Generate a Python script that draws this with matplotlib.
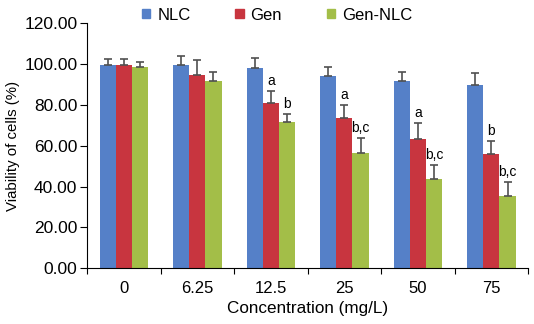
import numpy as np
import matplotlib.pyplot as plt
from matplotlib.patches import Patch

plt.rcParams['font.family'] = ['Liberation Sans', 'DejaVu Sans']

# data
conc = ['0', '6.25', '12.5', '25', '50', '75']
nlc = [99.5, 99.5, 98.2, 94.4, 91.7, 90.0]
nlc_err = [2.8, 4.4, 5.0, 4.0, 4.5, 5.6]
gen = [99.5, 94.8, 81.0, 73.7, 63.2, 55.9]
gen_err = [2.8, 7.3, 6.0, 6.2, 8.0, 6.5]
gen_nlc = [98.5, 91.7, 71.5, 56.6, 43.6, 35.6]
gen_nlc_err = [2.6, 4.4, 4.1, 7.1, 6.9, 6.5]
gen_sig = ['', '', 'a', 'a', 'a', 'b']
gen_nlc_sig = ['', '', 'b', 'b,c', 'b,c', 'b,c']

colors = ['#5580C8', '#C8353F', '#A3BE48']
names = ['NLC', 'Gen', 'Gen-NLC']

fig = plt.figure(figsize=(5.34, 3.24), dpi=100)
ax = fig.add_axes([0.163, 0.172, 0.826, 0.756])

x = np.arange(len(conc))
w = 0.22
series = [(nlc, nlc_err, None), (gen, gen_err, gen_sig), (gen_nlc, gen_nlc_err, gen_nlc_sig)]
for i, (vals, err, sig) in enumerate(series):
    xs = x + (i - 1) * w
    ax.bar(xs, vals, w, color=colors[i], zorder=2)
    ax.errorbar(xs, vals, yerr=[np.zeros(len(vals)), err], fmt='none',
                ecolor='#505050', elinewidth=1.2, capsize=3, capthick=1.2, zorder=3)
    if sig:
        for xi, v, e, s in zip(xs, vals, err, sig):
            if s:
                ax.text(xi, v + e + 1.5, s, ha='center', va='bottom', fontsize=10)

ax.set_xlim(-0.5, 5.5)
ax.set_ylim(0, 120)
ax.set_yticks(np.arange(0, 121, 20))
ax.set_yticklabels(['%.2f' % v for v in np.arange(0, 121, 20)], fontsize=12.5)
ax.set_xticks(np.arange(-0.5, 6, 1))
ax.set_xticklabels([])
ax.set_xticks(x, minor=True)
ax.set_xticklabels(conc, minor=True, fontsize=12)
ax.tick_params(axis='x', which='minor', length=0, pad=9)
ax.tick_params(axis='x', which='major', length=4, direction='out')
ax.tick_params(axis='y', length=5, direction='out', pad=2)
for s in ['top', 'right']:
    ax.spines[s].set_visible(False)
ax.set_xlabel('Concentration (mg/L)', fontsize=12.3, labelpad=4)
ax.set_ylabel('Viability of cells (%)', fontsize=10.8, labelpad=3)

handles = [Patch(color=c) for c in colors]
fig.legend(handles, names, loc='center', bbox_to_anchor=(0.519, 0.953), ncol=3,
           frameon=False, fontsize=12, handlelength=0.5, handleheight=0.45,
           handletextpad=0.4, columnspacing=2.7)

fig.savefig('out.png', dpi=100)
